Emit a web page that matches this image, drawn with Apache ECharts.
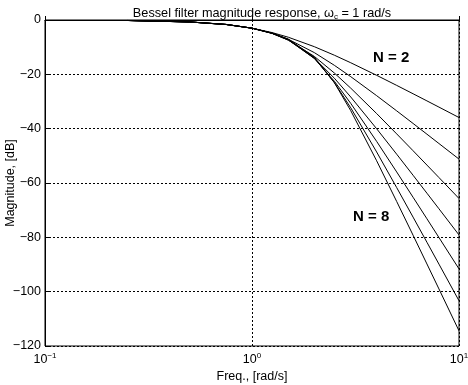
<!DOCTYPE html>
<html>
<head>
<meta charset="utf-8">
<script src="https://cdn.jsdelivr.net/npm/echarts@6/dist/echarts.min.js"></script>
<style>html,body{margin:0;padding:0;background:#fff;}#c{width:468px;height:385px;}</style>
</head>
<body>
<div id="c"></div>
<script>
const freqs = [0.25, 0.5, 0.75, 1, 1.25, 1.5, 2, 2.5, 3, 4, 5, 6, 7, 8, 10];
const magN2 = [-0.17, -0.72, -1.67, -3.01, -4.62, -6.36, -9.82, -12.96, -15.74, -20.36, -24.07, -27.15, -29.77, -32.06, -35.9];
const magN3 = [-0.17, -0.69, -1.61, -3.01, -4.88, -7.12, -12.0, -16.68, -20.86, -27.85, -33.44, -38.08, -42.03, -45.47, -51.2];
const magN4 = [-0.18, -0.71, -1.63, -3.01, -4.94, -7.42, -13.4, -19.52, -25.09, -34.43, -41.92, -48.12, -53.4, -57.99, -65.7];
const magN5 = [-0.18, -0.72, -1.65, -3.01, -4.9, -7.41, -14.06, -21.43, -28.34, -40.02, -49.39, -57.15, -63.75, -69.49, -79.12];
const magN6 = [-0.18, -0.73, -1.65, -3.01, -4.85, -7.29, -14.17, -22.54, -30.7, -44.68, -55.93, -65.25, -73.17, -80.07, -91.62];
const magN7 = [-0.18, -0.73, -1.65, -3.01, -4.83, -7.17, -13.98, -23.03, -32.33, -48.57, -61.69, -72.56, -81.81, -89.86, -103.34];
const magN8 = [-0.18, -0.73, -1.65, -3.01, -4.82, -7.08, -13.68, -23.08, -33.38, -51.81, -66.8, -79.22, -89.8, -98.99, -114.41];
const seriesNames = ['N = 2', 'N = 3', 'N = 4', 'N = 5', 'N = 6', 'N = 7', 'N = 8'];
const seriesValues = [magN2, magN3, magN4, magN5, magN6, magN7, magN8];
const titleText = 'Bessel filter magnitude response, ω{sub|c} = 1 rad/s';
const xName = 'Freq., [rad/s]';
const yName = 'Magnitude, [dB]';
const labelTop = 'N = 2';
const labelBottom = 'N = 8';

const FONT = 'Liberation Sans, Arial, sans-serif';
const chart = echarts.init(document.getElementById('c'));
chart.setOption({
  animation: false,
  backgroundColor: '#fff',
  title: {
    text: titleText,
    left: 257, top: 1, textAlign: 'center',
    textStyle: {
      fontFamily: FONT, fontSize: 12.7, fontWeight: 'normal', color: '#000',
      rich: {sub: {fontFamily: FONT, fontSize: 8, color: '#000', padding: [7, 0, 0, 0]}}
    }
  },
  grid: {show: true, borderColor: '#000', borderWidth: 1, backgroundColor: '#fff',
    left: 45, right: 9, top: 20, bottom: 39, containLabel: false, outerBoundsMode: 'none'},
  xAxis: {
    type: 'log', logBase: 10, min: 0.1, max: 10,
    name: xName, nameLocation: 'middle', nameGap: 24, nameMoveOverlap: false,
    nameTextStyle: {fontFamily: FONT, fontSize: 12.5, color: '#000'},
    axisLine: {lineStyle: {color: '#000'}},
    axisTick: {inside: true, length: 4, lineStyle: {color: '#000'}},
    minorTick: {show: false},
    axisLabel: {
      color: '#000', fontFamily: FONT, fontSize: 12.5, margin: 6,
      formatter: v => '10{sup|' + String(Math.round(Math.log10(v))).replace('-', '−') + '}',
      rich: {sup: {fontFamily: FONT, fontSize: 8, color: '#000', padding: [0, 0, 8, 0]}}
    },
    splitLine: {show: true, lineStyle: {color: '#000', type: [2, 2], width: 1}}
  },
  yAxis: {
    type: 'value', min: -120, max: 0, interval: 20,
    name: yName, nameLocation: 'middle', nameGap: 28, nameRotate: 90, nameMoveOverlap: false,
    nameTextStyle: {fontFamily: FONT, fontSize: 12.5, color: '#000'},
    axisLine: {show: true, lineStyle: {color: '#000'}},
    axisTick: {show: true, inside: true, length: 4, lineStyle: {color: '#000'}},
    axisLabel: {color: '#000', fontFamily: FONT, fontSize: 12.5, margin: 4,
      formatter: v => String(v).replace('-', '−')},
    splitLine: {show: true, lineStyle: {color: '#000', type: [2, 2], width: 1}}
  },
  series: seriesValues.map((vals, i) => ({
    name: seriesNames[i],
    type: 'line',
    showSymbol: false,
    symbol: 'none',
    smooth: false,
    lineStyle: {color: '#000', width: 1},
    data: freqs.map((f, j) => [f, vals[j]])
  })),
  graphic: [
    {type: 'text', left: 373, top: 50, style: {text: labelTop, font: 'bold 15px ' + FONT, fill: '#000'}},
    {type: 'text', left: 353, top: 209, style: {text: labelBottom, font: 'bold 15px ' + FONT, fill: '#000'}}
  ]
});
</script>
</body>
</html>
